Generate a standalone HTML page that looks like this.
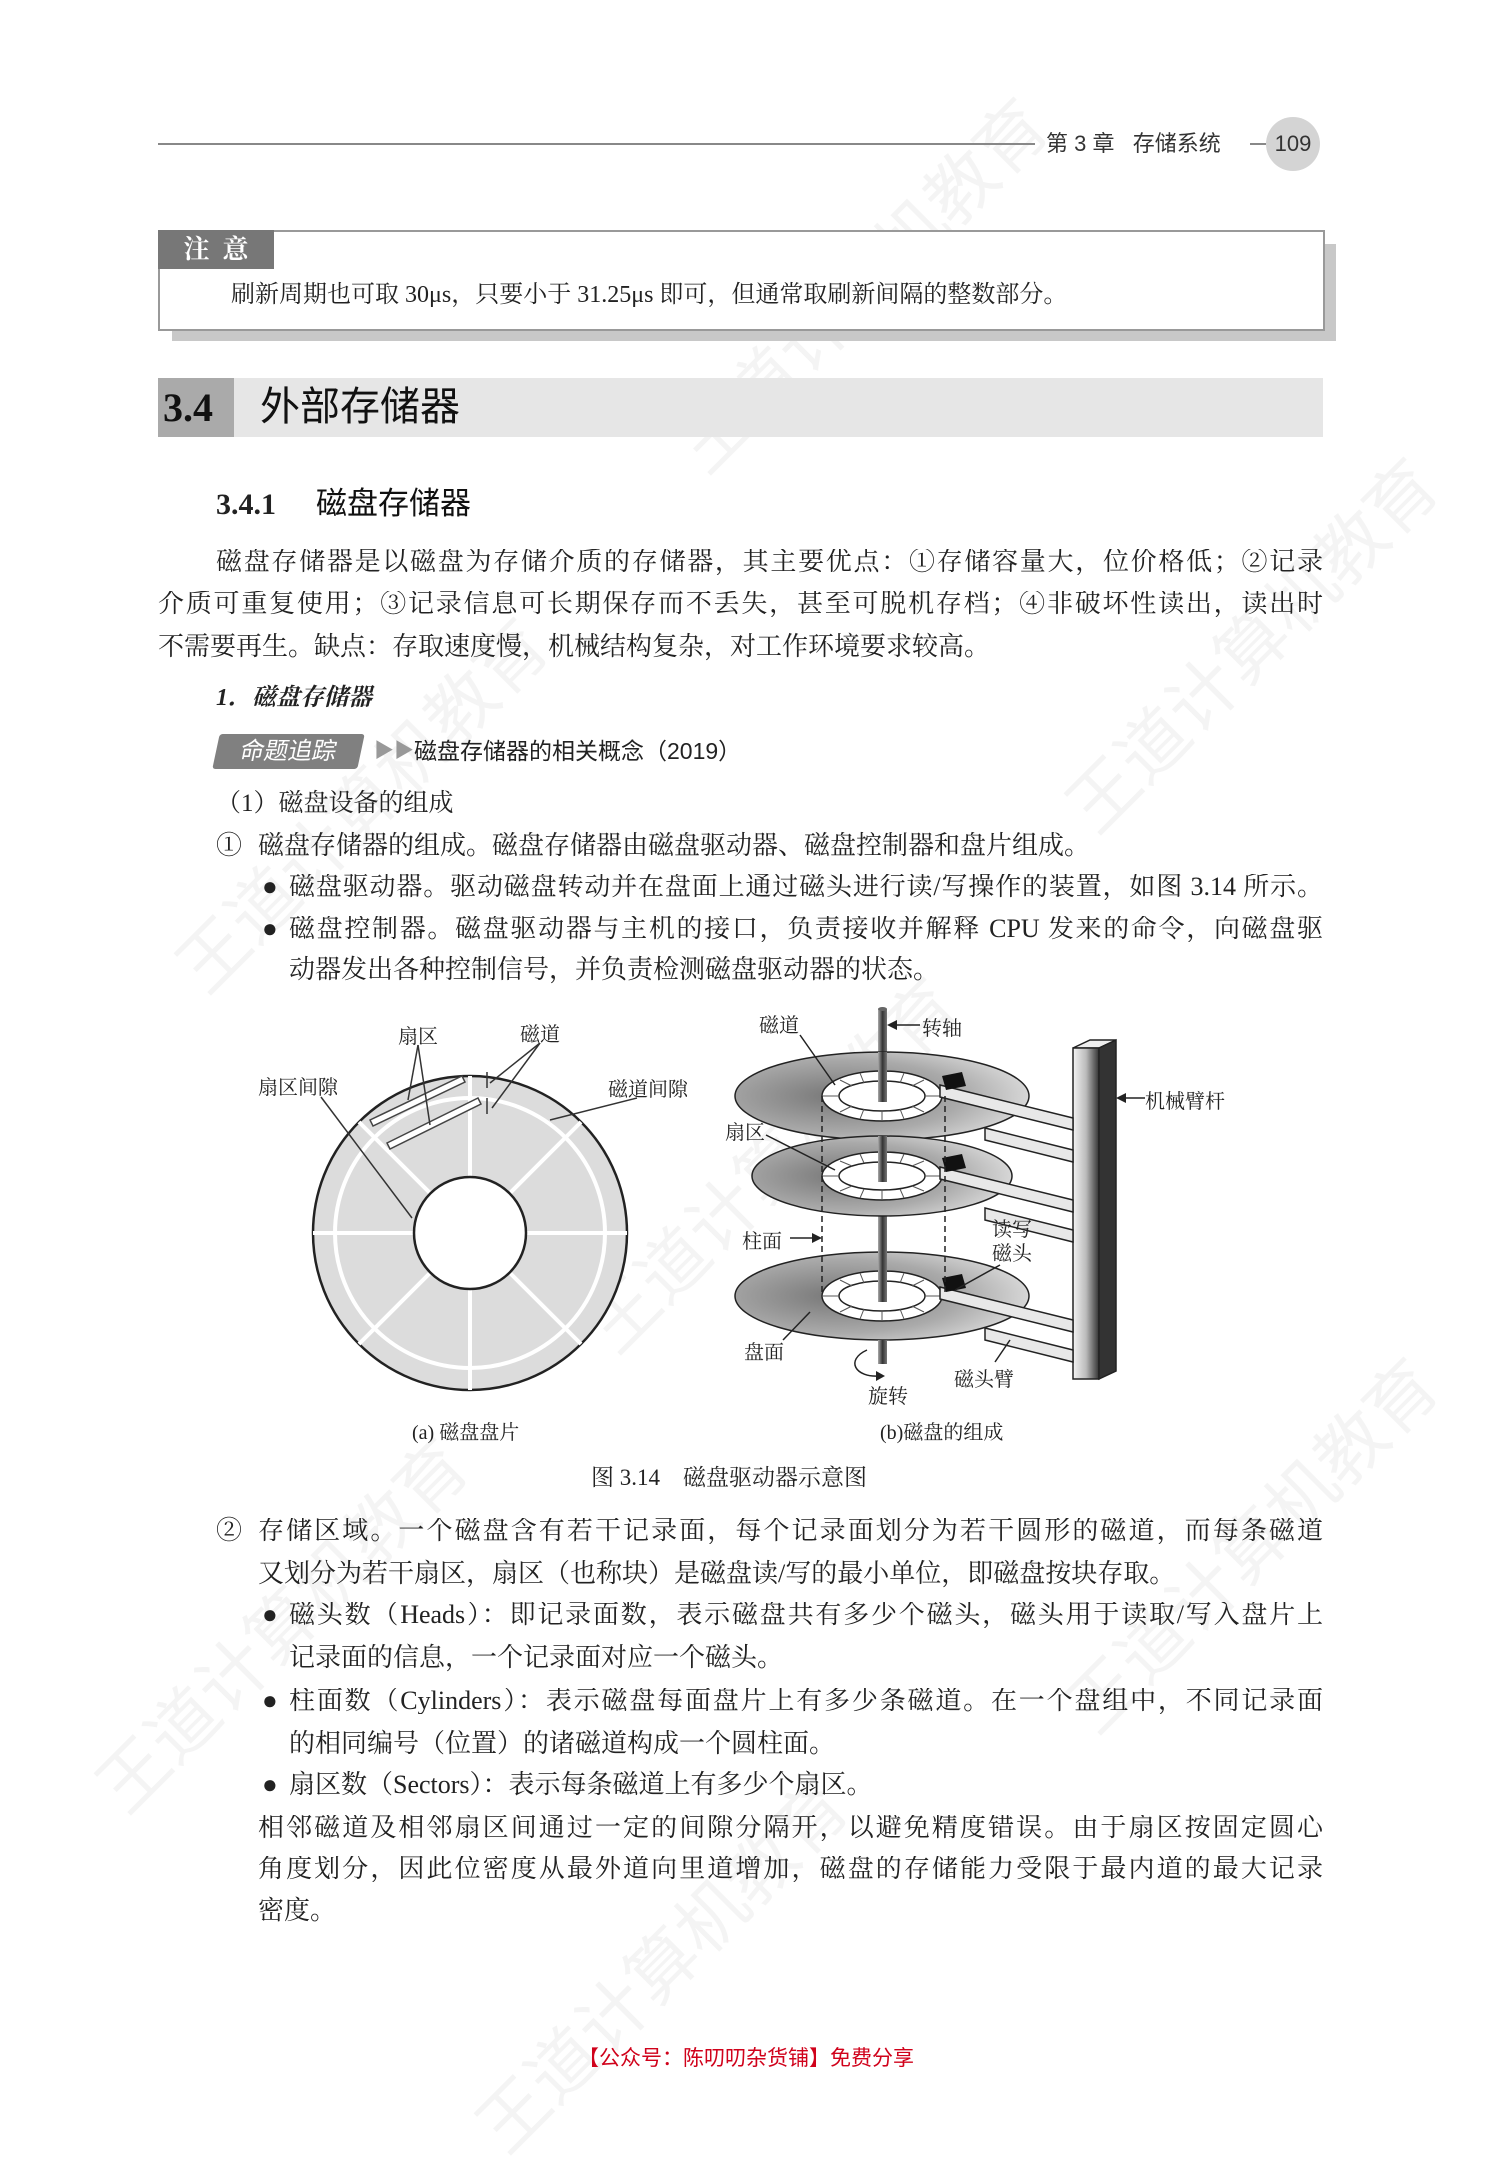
<!DOCTYPE html>
<html><head><meta charset="utf-8">
<style>
html,body{margin:0;padding:0;background:#fff;}
body{width:1503px;height:2095px;position:relative;overflow:hidden;font-family:"Liberation Serif","Noto Serif CJK SC",serif;color:#222;}
.a{position:absolute;white-space:nowrap;}
.t{position:absolute;font-size:26px;line-height:26px;height:26px;white-space:nowrap;}
.j{text-align:justify;text-align-last:justify;white-space:normal;overflow:hidden;}
.s{font-family:"Liberation Sans","Noto Sans CJK SC",sans-serif;}
.wm{position:absolute;font-family:"Liberation Sans","Noto Sans CJK SC",sans-serif;font-size:70px;color:rgba(0,0,0,0.045);transform:rotate(-45deg);transform-origin:left top;white-space:nowrap;}
.lab{font-size:20px;}
</style></head><body>

<!-- watermarks -->
<div class="wm" style="left:650px;top:420px;">王道计算机教育</div>
<div class="wm" style="left:1040px;top:780px;">王道计算机教育</div>
<div class="wm" style="left:150px;top:940px;">王道计算机教育</div>
<div class="wm" style="left:560px;top:1300px;">王道计算机教育</div>
<div class="wm" style="left:1040px;top:1680px;">王道计算机教育</div>
<div class="wm" style="left:70px;top:1760px;">王道计算机教育</div>
<div class="wm" style="left:450px;top:2100px;">王道计算机教育</div>

<!-- header -->
<div class="a" style="left:158px;top:143px;width:877px;height:2px;background:#888;"></div>
<div class="a s" style="left:1046px;top:131px;font-size:22px;line-height:26px;color:#333;">第 3 章&nbsp;&nbsp;&nbsp;存储系统</div>
<div class="a" style="left:1250px;top:143px;width:16px;height:2px;background:#888;"></div>
<div class="a s" style="left:1266px;top:117px;width:54px;height:54px;border-radius:50%;background:#d4d4d4;text-align:center;line-height:54px;font-size:22px;color:#333;">109</div>

<!-- note box -->
<div class="a" style="left:172px;top:244px;width:1164px;height:97px;background:#c8c8c8;"></div>
<div class="a" style="left:158px;top:230px;width:1163px;height:97px;background:#fff;border:2px solid #999;"></div>
<div class="a" style="left:158px;top:230px;width:116px;height:39px;background:#777;color:#fff;font-size:26px;line-height:39px;text-align:center;font-weight:bold;">注&nbsp;&nbsp;意</div>
<div class="t" style="left:231px;top:282px;font-size:24px;">刷新周期也可取 30μs，只要小于 31.25μs 即可，但通常取刷新间隔的整数部分。</div>

<!-- section 3.4 -->
<div class="a" style="left:158px;top:378px;width:1165px;height:59px;background:#e6e6e6;"></div>
<div class="a" style="left:158px;top:378px;width:76px;height:59px;background:#aaa;"></div>
<div class="a" style="left:163px;top:385px;font-size:40px;line-height:46px;font-weight:bold;color:#111;">3.4</div>
<div class="a s" style="left:260px;top:384px;font-size:40px;line-height:46px;color:#111;">外部存储器</div>

<div class="a" style="left:216px;top:488px;font-size:30px;line-height:34px;font-weight:bold;">3.4.1</div>
<div class="a s" style="left:316px;top:487px;font-size:31px;line-height:34px;color:#111;">磁盘存储器</div>

<div class="t j" style="left:216px;top:549px;width:1107px;">磁盘存储器是以磁盘为存储介质的存储器，其主要优点：①存储容量大，位价格低；②记录</div>
<div class="t j" style="left:158px;top:591px;width:1165px;">介质可重复使用；③记录信息可长期保存而不丢失，甚至可脱机存档；④非破坏性读出，读出时</div>
<div class="t" style="left:158px;top:634px;">不需要再生。缺点：存取速度慢，机械结构复杂，对工作环境要求较高。</div>

<div class="t" style="left:216px;top:685px;font-size:24px;font-weight:bold;font-style:italic;">1．磁盘存储器</div>

<div class="a s" style="left:216px;top:734px;width:145px;height:35px;background:#808080;color:#fff;font-size:24px;line-height:35px;text-align:center;transform:skewX(-12deg);border-radius:3px;">命题追踪</div>
<div class="a" style="left:374px;top:738px;font-size:20px;color:#999;line-height:26px;">▶▶</div>
<div class="a s" style="left:414px;top:738px;font-size:23px;line-height:26px;color:#222;">磁盘存储器的相关概念（2019）</div>

<div class="t" style="left:216px;top:791px;font-size:25px;">（1）磁盘设备的组成</div>
<div class="t" style="left:216px;top:833px;">①</div>
<div class="t" style="left:258px;top:833px;">磁盘存储器的组成。磁盘存储器由磁盘驱动器、磁盘控制器和盘片组成。</div>
<div class="t" style="left:262px;top:874px;">●</div>
<div class="t j" style="left:289px;top:874px;width:1034px;">磁盘驱动器。驱动磁盘转动并在盘面上通过磁头进行读/写操作的装置，如图 3.14 所示。</div>
<div class="t" style="left:262px;top:916px;">●</div>
<div class="t j" style="left:289px;top:916px;width:1034px;">磁盘控制器。磁盘驱动器与主机的接口，负责接收并解释 CPU 发来的命令，向磁盘驱</div>
<div class="t" style="left:289px;top:957px;">动器发出各种控制信号，并负责检测磁盘驱动器的状态。</div>

<!-- figure -->
<svg class="a" style="left:0;top:0;" width="1503" height="2095" viewBox="0 0 1503 2095">
<defs>
<radialGradient id="pg" cx="0.35" cy="0.5" r="0.7">
<stop offset="0" stop-color="#777"/><stop offset="0.6" stop-color="#aaa"/><stop offset="1" stop-color="#e0e0e0"/>
</radialGradient>
<linearGradient id="bar" x1="0" x2="1">
<stop offset="0" stop-color="#f4f4f4"/><stop offset="0.5" stop-color="#bbb"/><stop offset="1" stop-color="#333"/>
</linearGradient>
<linearGradient id="sp" x1="0" x2="1">
<stop offset="0" stop-color="#aaa"/><stop offset="0.5" stop-color="#333"/><stop offset="1" stop-color="#777"/>
</linearGradient>
</defs>
<!-- (a) disk -->
<circle cx="470" cy="1233" r="157" fill="#dcdcdc" stroke="#222" stroke-width="2.5"/>
<circle cx="470" cy="1233" r="135" fill="none" stroke="#fff" stroke-width="4"/>
<g stroke="#fff" stroke-width="4">
<line x1="470" y1="1076" x2="470" y2="1390"/>
<line x1="313" y1="1233" x2="627" y2="1233"/>
<line x1="359" y1="1122" x2="581" y2="1344"/>
<line x1="581" y1="1122" x2="359" y2="1344"/>
</g>
<circle cx="470" cy="1233" r="56" fill="#fff" stroke="#222" stroke-width="2.5"/>
<!-- sector arrows -->
<g stroke="#444" stroke-width="1.5" fill="#fff">
<polygon points="370,1120 462,1076 465,1082 373,1126"/>
<polygon points="387,1143 478,1098 481,1104 390,1149"/>
</g>
<g stroke="#333" stroke-width="1.5" fill="none">
<line x1="418" y1="1045" x2="408" y2="1100"/>
<line x1="418" y1="1045" x2="430" y2="1125"/>
<line x1="540" y1="1043" x2="490" y2="1083"/>
<line x1="540" y1="1043" x2="492" y2="1108"/>
<line x1="321" y1="1097" x2="412" y2="1218"/>
<line x1="637" y1="1098" x2="550" y2="1120"/>
</g>
<g stroke="#333" stroke-width="1.5">
<line x1="487" y1="1072" x2="487" y2="1088"/><line x1="487" y1="1098" x2="487" y2="1114"/>
</g>
<!-- (b) spindle -->
<rect x="878" y="1009" width="9" height="355" fill="url(#sp)"/>
<ellipse cx="882.5" cy="1009" rx="4.5" ry="2" fill="#666"/>
<!-- arm bar -->
<polygon points="1073,1048 1090,1040 1116,1040 1099,1048" fill="#eee" stroke="#222" stroke-width="1.5"/>
<rect x="1073" y="1048" width="26" height="331" fill="url(#bar)" stroke="#222" stroke-width="1.5"/>
<polygon points="1099,1048 1116,1040 1116,1371 1099,1379" fill="#333" stroke="#222" stroke-width="1.5"/>
<!-- platters -->
<g id="pl">
</g>
<g stroke="#222" stroke-width="1.5">
<!-- platter 1 -->
<ellipse cx="882" cy="1096" rx="147" ry="44" fill="url(#pg)"/>
<ellipse cx="882" cy="1096" rx="60" ry="25" fill="#fff"/>
<ellipse cx="882" cy="1096" rx="43" ry="15" fill="#fff"/>
<!-- platter 2 -->
<ellipse cx="882" cy="1176" rx="130" ry="40" fill="url(#pg)"/>
<ellipse cx="882" cy="1176" rx="60" ry="24" fill="#fff"/>
<ellipse cx="882" cy="1176" rx="43" ry="14" fill="#fff"/>
<!-- platter 3 -->
<ellipse cx="882" cy="1296" rx="147" ry="44" fill="url(#pg)"/>
<ellipse cx="882" cy="1296" rx="60" ry="25" fill="#fff"/>
<ellipse cx="882" cy="1296" rx="43" ry="15" fill="#fff"/>
</g>
<g stroke="#555" stroke-width="1">
<path d="M822,1096 L839,1096 M925,1096 L942,1096 M882,1071 L882,1081 M882,1111 L882,1121 M840,1080 L852,1086 M924,1080 L912,1086 M840,1112 L852,1106 M924,1112 L912,1106 M860,1073 L864,1083 M904,1073 L900,1083 M860,1119 L864,1109 M904,1119 L900,1109"/>
<path d="M822,1176 L839,1176 M925,1176 L942,1176 M882,1152 L882,1162 M882,1190 L882,1200 M840,1161 L852,1166 M924,1161 L912,1166 M840,1191 L852,1186 M924,1191 L912,1186 M860,1154 L864,1163 M904,1154 L900,1163 M860,1198 L864,1189 M904,1198 L900,1189"/>
<path d="M822,1296 L839,1296 M925,1296 L942,1296 M882,1271 L882,1281 M882,1311 L882,1321 M840,1280 L852,1286 M924,1280 L912,1286 M840,1312 L852,1306 M924,1312 L912,1306 M860,1273 L864,1283 M904,1273 L900,1283 M860,1319 L864,1309 M904,1319 L900,1309"/>
</g>
<!-- spindle on top through hubs -->
<rect x="878" y="1052" width="9" height="50" fill="url(#sp)"/>
<rect x="878" y="1136" width="9" height="46" fill="url(#sp)"/>
<rect x="878" y="1220" width="9" height="82" fill="url(#sp)"/>
<rect x="878" y="1340" width="9" height="24" fill="url(#sp)"/>
<!-- arms -->
<g stroke="#222" stroke-width="1.5" fill="#e8e8e8">
<polygon points="940,1085 1073,1118 1073,1130 940,1097"/>
<polygon points="985,1128 1073,1150 1073,1162 985,1140"/>
<polygon points="940,1167 1073,1200 1073,1212 940,1179"/>
<polygon points="985,1208 1073,1230 1073,1242 985,1220"/>
<polygon points="940,1287 1073,1320 1073,1332 940,1299"/>
<polygon points="985,1328 1073,1350 1073,1362 985,1340"/>
</g>
<g fill="#111">
<polygon points="942,1076 962,1072 966,1086 946,1090"/>
<polygon points="942,1158 962,1154 966,1168 946,1172"/>
<polygon points="942,1278 962,1274 966,1288 946,1292"/>
</g>
<!-- dashed cylinder lines -->
<g stroke="#222" stroke-width="1.5" stroke-dasharray="6,4">
<line x1="822" y1="1096" x2="822" y2="1296"/>
<line x1="945" y1="1096" x2="945" y2="1296"/>
</g>
<!-- leaders -->
<g stroke="#222" stroke-width="1.5" fill="none">
<line x1="800" y1="1035" x2="835" y2="1085"/>
<line x1="766" y1="1135" x2="835" y2="1170"/>
<line x1="790" y1="1238" x2="818" y2="1238"/>
<line x1="783" y1="1340" x2="810" y2="1312"/>
<line x1="1000" y1="1265" x2="955" y2="1290"/>
<line x1="995" y1="1362" x2="1010" y2="1340"/>
<line x1="920" y1="1025" x2="891" y2="1025"/>
<line x1="1145" y1="1098" x2="1118" y2="1098"/>
<path d="M867,1350 C845,1360 855,1378 880,1376"/>
</g>
<g fill="#222">
<polygon points="887,1025 897,1020 897,1030"/>
<polygon points="1116,1098 1126,1093 1126,1103"/>
<polygon points="822,1238 812,1233 812,1243"/>
<polygon points="885,1376 876,1371 876,1381"/>
</g>
</svg>

<div class="a lab" style="left:398px;top:1020px;">扇区</div>
<div class="a lab" style="left:520px;top:1018px;">磁道</div>
<div class="a lab" style="left:258px;top:1071px;">扇区间隙</div>
<div class="a lab" style="left:608px;top:1073px;">磁道间隙</div>
<div class="a lab" style="left:759px;top:1009px;">磁道</div>
<div class="a lab" style="left:922px;top:1012px;">转轴</div>
<div class="a lab" style="left:1145px;top:1085px;">机械臂杆</div>
<div class="a lab" style="left:725px;top:1116px;">扇区</div>
<div class="a lab" style="left:742px;top:1225px;">柱面</div>
<div class="a lab" style="left:992px;top:1218px;line-height:24px;white-space:normal;width:44px;">读写磁头</div>
<div class="a lab" style="left:744px;top:1336px;">盘面</div>
<div class="a lab" style="left:868px;top:1380px;">旋转</div>
<div class="a lab" style="left:954px;top:1363px;">磁头臂</div>
<div class="a lab" style="left:412px;top:1416px;">(a) 磁盘盘片</div>
<div class="a lab" style="left:880px;top:1416px;">(b)磁盘的组成</div>
<div class="a" style="left:591px;top:1465px;font-size:23px;line-height:26px;">图 3.14&nbsp;&nbsp;&nbsp;&nbsp;磁盘驱动器示意图</div>

<!-- part 2 -->
<div class="t" style="left:216px;top:1518px;">②</div>
<div class="t j" style="left:258px;top:1518px;width:1065px;">存储区域。一个磁盘含有若干记录面，每个记录面划分为若干圆形的磁道，而每条磁道</div>
<div class="t" style="left:258px;top:1561px;">又划分为若干扇区，扇区（也称块）是磁盘读/写的最小单位，即磁盘按块存取。</div>
<div class="t" style="left:262px;top:1602px;">●</div>
<div class="t j" style="left:289px;top:1602px;width:1034px;">磁头数（Heads）：即记录面数，表示磁盘共有多少个磁头，磁头用于读取/写入盘片上</div>
<div class="t" style="left:289px;top:1645px;">记录面的信息，一个记录面对应一个磁头。</div>
<div class="t" style="left:262px;top:1688px;">●</div>
<div class="t j" style="left:289px;top:1688px;width:1034px;">柱面数（Cylinders）：表示磁盘每面盘片上有多少条磁道。在一个盘组中，不同记录面</div>
<div class="t" style="left:289px;top:1731px;">的相同编号（位置）的诸磁道构成一个圆柱面。</div>
<div class="t" style="left:262px;top:1772px;">●</div>
<div class="t" style="left:289px;top:1772px;">扇区数（Sectors）：表示每条磁道上有多少个扇区。</div>
<div class="t j" style="left:258px;top:1815px;width:1065px;">相邻磁道及相邻扇区间通过一定的间隙分隔开，以避免精度错误。由于扇区按固定圆心</div>
<div class="t j" style="left:258px;top:1856px;width:1065px;">角度划分，因此位密度从最外道向里道增加，磁盘的存储能力受限于最内道的最大记录</div>
<div class="t" style="left:258px;top:1898px;">密度。</div>

<div class="a s" style="left:578px;top:2047px;font-size:21px;line-height:24px;color:#d0021b;">【公众号：陈叨叨杂货铺】免费分享</div>
</body></html>
